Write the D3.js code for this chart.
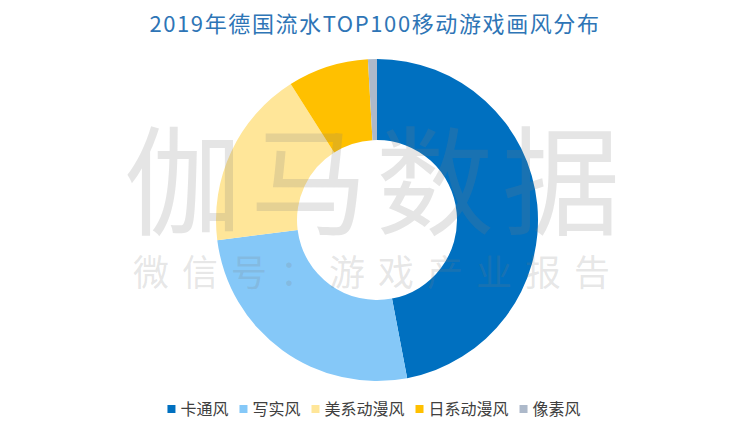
<!DOCTYPE html>
<html>
<head>
<meta charset="utf-8">
<script src="https://cdn.jsdelivr.net/npm/d3@7/dist/d3.min.js"></script>
<style>
  html, body { margin: 0; padding: 0; background: #ffffff; }
  svg { display: block; }
  text { font-family: "Noto Sans CJK SC", "Noto Sans", sans-serif; }
</style>
</head>
<body>
<svg id="chart" width="750" height="431"></svg>
<script>
const title = "2019年德国流水TOP100移动游戏画风分布";
const categories = ["卡通风", "写实风", "美系动漫风", "日系动漫风", "像素风"];
const values = [47.0, 26.0, 18.0, 8.1, 0.9];
const colors = ["#0070C0", "#85C8F8", "#FFE699", "#FFC000", "#ADB9CA"];
const watermarkMain = "伽马数据";
const watermarkSub = "微信号：游戏产业报告";

const W = 750, H = 431;
const svg = d3.select("#chart");

svg.append("text")
  .attr("x", 375).attr("y", 32)
  .attr("text-anchor", "middle")
  .attr("font-size", 22)
  .attr("letter-spacing", 1.6)
  .attr("fill", "#2E75B6")
  .text(title);

const cx = 377, cy = 220, rOuter = 161, rInner = 80;
const pie = d3.pie().sort(null).value(d => d.v);
const arc = d3.arc().innerRadius(rInner).outerRadius(rOuter);
const data = categories.map((c, i) => ({ c, v: values[i], color: colors[i] }));

const g = svg.append("g").attr("transform", `translate(${cx},${cy})`);
g.selectAll("path").data(pie(data)).join("path")
  .attr("d", arc)
  .attr("fill", d => d.data.color);

// watermark
const wm = svg.append("g").attr("fill", "#7f7f7f").attr("fill-opacity", 0.2);
wm.append("text")
  .attr("x", 376).attr("y", 226)
  .attr("text-anchor", "middle")
  .attr("font-size", 118)
  .attr("letter-spacing", 8)
  .text(watermarkMain);
wm.append("text")
  .attr("x", 378).attr("y", 286)
  .attr("text-anchor", "middle")
  .attr("font-size", 36)
  .attr("letter-spacing", 13)
  .text(watermarkSub);

// legend
const legend = svg.append("g");
const items = legend.selectAll("g").data(data).join("g");
items.append("rect").attr("width", 8).attr("height", 8).attr("y", -4).attr("fill", d => d.color);
items.append("text")
  .attr("x", 13).attr("y", 0)
  .attr("dy", "0.35em")
  .attr("font-size", 16)
  .attr("fill", "#404040")
  .text(d => d.c);
const gap = 11;
const widths = [];
items.each(function() { widths.push(this.getBBox().width); });
const total = d3.sum(widths) + gap * (widths.length - 1);
const start = 374 - total / 2;
items.attr("transform", (d, i) => {
  const x = start + d3.sum(widths.slice(0, i)) + gap * i;
  return `translate(${x},409)`;
});
</script>
</body>
</html>
